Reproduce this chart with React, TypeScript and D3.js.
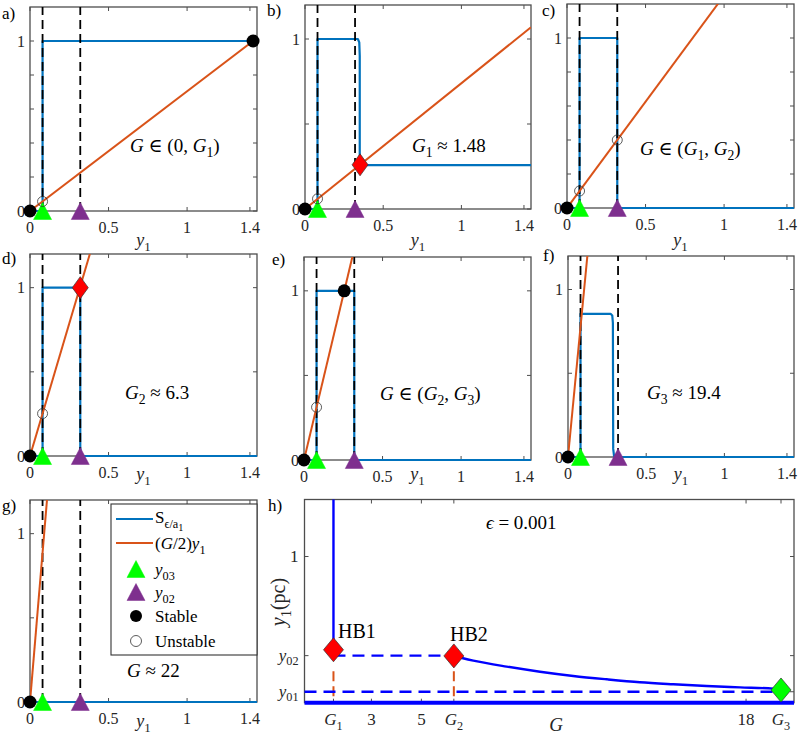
import React from 'react';
import * as d3 from 'd3';

// ---------- data ----------
const Y03 = 0.08;
const Y02 = 0.32;
const X_MAX = 1.445;
const Y_MAX = 1.2;

const panelLetters = ['a', 'b', 'c', 'd', 'e', 'f', 'g'];
const halfG = [0.704, 0.74, 1.25, 3.15, 3.9, 9.7, 11.1];

const xTicks = [0, 0.5, 1, 1.4];
const xTickLabels = ['0', '0.5', '1', '1.4'];
const yTicksFine = [0, 0.2, 0.4, 0.6, 0.8, 1];
const yTicksCoarse = [0, 0.5, 1];
const yTickLabeled = [0, 1];

const sA = [[0, 0], [0.08, 0], [0.08, 1], [1.42, 1]];
const sB = [[0, 0], [0.08, 0], [0.08, 1], [0.338, 1], [0.347, 0.98], [0.35, 0.9], [0.35, 0.27], [0.36, 0.258], [1.445, 0.258]];
const sC = [[0, 0], [0.08, 0], [0.08, 1], [0.32, 1], [0.32, 0], [1.445, 0]];
const sD = [[0, 0], [0.08, 0], [0.08, 1], [0.32, 1], [0.32, 0], [1.445, 0]];
const sE = [[0, 0], [0.08, 0], [0.08, 1], [0.32, 1], [0.32, 0], [1.445, 0]];
const sF = [[0, 0], [0.08, 0], [0.08, 0.855], [0.272, 0.855], [0.283, 0.845], [0.287, 0.8], [0.289, 0.05], [0.295, 0], [1.445, 0]];
const sG = [[0, 0], [1.445, 0]];
const sCurves = [sA, sB, sC, sD, sE, sF, sG];

const stablePts = [[[0, 0], [1.42, 1]], [[0, 0]], [[0, 0]], [[0, 0]], [[0, 0], [0.256, 1]], [[0, 0]], [[0, 0]]];
const unstablePts = [[[0.08, 0.056]], [[0.08, 0.06]], [[0.08, 0.1], [0.32, 0.4]], [[0.08, 0.252]], [[0.08, 0.312]], [], []];
const bifPts = [[], [[0.352, 0.26]], [], [[0.32, 1.0]], [], [], []];

// panel h data
const G1 = 1.48;
const G2 = 6.3;
const G3 = 19.4;
const Y01H = 0.075;
const Y02H = 0.322;
const hCurveG = [6.3, 6.67, 7.08, 8.41, 9.75, 11.08, 12.42, 13.75, 15.09, 16.42, 17.76, 19.09, 19.4];
const hCurveY = [0.32, 0.304, 0.288, 0.247, 0.212, 0.183, 0.16, 0.14, 0.126, 0.114, 0.105, 0.096, 0.087];
const hb1 = [G1, 0.362];
const hb2 = [G2, 0.32];
const g3Pt = [G3, 0.087];
const hXTicks = [G1, 3, 5, G2, 18, G3];
const hYTicks = [Y01H, Y02H, 1];

// ---------- helpers ----------
const FONT = '"Liberation Serif", "DejaVu Serif", "Noto Serif", "Tinos", "FreeSerif", "Nimbus Roman", "Times New Roman", Times, serif';
const BLUE = '#0072BD';
const ORANGE = '#D95319';
const PURE_BLUE = '#0000FF';
const AX = '#4d4d4d';
const TXT = '#262626';

type Seg = { t: string; i?: boolean; s?: number };
const SUBOFF = [0, 0.28, 0.46];
const SUBSCALE = [1, 0.72, 0.6];

function Rich(props: { x: number; y: number; segs: Seg[]; size: number; anchor?: string; transform?: string; fill?: string }) {
  const { x, y, segs, size, anchor = 'start', transform, fill = '#000' } = props;
  let prev = 0;
  const kids = segs.map((s, k) => {
    const lv = s.s || 0;
    const dy = (SUBOFF[lv] - SUBOFF[prev]) * size;
    prev = lv;
    return (
      <tspan key={k} dy={dy} fontStyle={s.i ? 'italic' : 'normal'} fontSize={size * SUBSCALE[lv]}>
        {s.t}
      </tspan>
    );
  });
  return (
    <text x={x} y={y} fontSize={size} textAnchor={anchor as any} transform={transform} fill={fill} style={{ fontFamily: FONT }}>
      {kids}
    </text>
  );
}

const annos: Seg[][] = [
  [{ t: 'G', i: true }, { t: ' ∈ (0, ' }, { t: 'G', i: true }, { t: '1', s: 1 }, { t: ')' }],
  [{ t: 'G', i: true }, { t: '1', s: 1 }, { t: ' ≈ 1.48' }],
  [{ t: 'G', i: true }, { t: ' ∈ (' }, { t: 'G', i: true }, { t: '1', s: 1 }, { t: ', ' }, { t: 'G', i: true }, { t: '2', s: 1 }, { t: ')' }],
  [{ t: 'G', i: true }, { t: '2', s: 1 }, { t: ' ≈ 6.3' }],
  [{ t: 'G', i: true }, { t: ' ∈ (' }, { t: 'G', i: true }, { t: '2', s: 1 }, { t: ', ' }, { t: 'G', i: true }, { t: '3', s: 1 }, { t: ')' }],
  [{ t: 'G', i: true }, { t: '3', s: 1 }, { t: ' ≈ 19.4' }],
  [{ t: 'G', i: true }, { t: ' ≈ 22' }],
];

const rects = [
  { l: 30, r: 257, t: 7, b: 211 },
  { l: 305, r: 531, t: 5, b: 209 },
  { l: 567, r: 794, t: 4, b: 208 },
  { l: 30, r: 257, t: 254, b: 456 },
  { l: 304, r: 531, t: 257, b: 460 },
  { l: 568, r: 794, t: 256, b: 457 },
  { l: 30, r: 257, t: 500, b: 702 },
];
const annoPos = [
  [130, 152], [412, 152], [640, 155], [125, 399], [380, 400], [647, 399], [127, 677],
];
const letterPos = [
  [2, 19], [267, 16], [542, 16], [2, 264], [272, 265], [543, 261], [2, 511],
];
const y1LabelBase = [246, 246, 246, 480, 480, 480, 727];

function Tri({ x, y, color }: { x: number; y: number; color: string }) {
  const hw = 9, hh = 8.5;
  return <polygon points={`${x},${y - hh} ${x + hw},${y + hh} ${x - hw},${y + hh}`} fill={color} stroke={color} strokeWidth={0.5} />;
}
function Diamond({ x, y, hw, hh, color }: { x: number; y: number; hw: number; hh: number; color: string }) {
  return <polygon points={`${x},${y - hh} ${x + hw},${y} ${x},${y + hh} ${x - hw},${y}`} fill={color} stroke="#333" strokeWidth={0.7} />;
}

function Panel({ idx }: { idx: number }) {
  const R = rects[idx];
  const x = d3.scaleLinear().domain([0, X_MAX]).range([R.l, R.r]);
  const y = d3.scaleLinear().domain([0, Y_MAX]).range([R.b, R.t]);
  const line = d3.line<number[]>().x((d) => x(d[0])).y((d) => y(d[1]));
  const yTicks = idx === 0 || idx === 2 ? yTicksFine : yTicksCoarse;
  const clipId = `clip-${idx}`;
  const tl = 4;
  const slope = halfG[idx];
  const orange = [[0, 0], [X_MAX, slope * X_MAX]];
  return (
    <g>
      <defs>
        <clipPath id={clipId}>
          <rect x={R.l} y={R.t} width={R.r - R.l} height={R.b - R.t} />
        </clipPath>
      </defs>
      <rect x={R.l} y={R.t} width={R.r - R.l} height={R.b - R.t} fill="white" stroke={AX} strokeWidth={1.3} />
      {xTicks.map((v, k) => (
        <g key={'xt' + k}>
          <line x1={x(v)} x2={x(v)} y1={R.b} y2={R.b - tl} stroke={AX} strokeWidth={1} />
          <line x1={x(v)} x2={x(v)} y1={R.t} y2={R.t + tl} stroke={AX} strokeWidth={1} />
          <text x={x(v)} y={R.b + 22} fontSize={16} textAnchor="middle" fill={TXT} style={{ fontFamily: FONT }}>
            {xTickLabels[k]}
          </text>
        </g>
      ))}
      {yTicks.map((v, k) => (
        <g key={'yt' + k}>
          <line x1={R.l} x2={R.l + tl} y1={y(v)} y2={y(v)} stroke={AX} strokeWidth={1} />
          <line x1={R.r} x2={R.r - tl} y1={y(v)} y2={y(v)} stroke={AX} strokeWidth={1} />
        </g>
      ))}
      {yTickLabeled.map((v, k) => (
        <text key={'yl' + k} x={R.l - 5} y={y(v) + 5.5} fontSize={16} textAnchor="end" fill={TXT} style={{ fontFamily: FONT }}>
          {String(v)}
        </text>
      ))}
      <Rich x={(R.l + R.r) / 2} y={y1LabelBase[idx]} size={18} anchor="middle" fill={TXT} segs={[{ t: 'y', i: true }, { t: '1', s: 1 }]} />
      <text x={letterPos[idx][0]} y={letterPos[idx][1]} fontSize={17} fill="#000" style={{ fontFamily: FONT }}>
        {panelLetters[idx] + ')'}
      </text>
      <path d={line(sCurves[idx] as any) || ''} fill="none" stroke={BLUE} strokeWidth={2.2} strokeLinejoin="round" />
      <g clipPath={`url(#${clipId})`}>
        {[Y03, Y02].map((v, k) => (
          <line key={'dl' + k} x1={x(v)} x2={x(v)} y1={y(0)} y2={y(Y_MAX)} stroke="#000" strokeWidth={1.8} strokeDasharray="9,5" />
        ))}
        <path d={line(orange as any) || ''} fill="none" stroke={ORANGE} strokeWidth={2} />
      </g>
      <Rich x={annoPos[idx][0]} y={annoPos[idx][1]} size={19} segs={annos[idx]} />
      {stablePts[idx].map((p, k) => (
        <circle key={'st' + k} cx={x(p[0])} cy={y(p[1])} r={6.5} fill="#000" />
      ))}
      <Tri x={x(Y03)} y={y(0)} color="#00FF00" />
      <Tri x={x(Y02)} y={y(0)} color="#7E2F8E" />
      {unstablePts[idx].map((p, k) => (
        <circle key={'us' + k} cx={x(p[0])} cy={y(p[1])} r={5} fill="none" stroke="#333" strokeWidth={0.8} />
      ))}
      {bifPts[idx].map((p, k) => (
        <Diamond key={'bf' + k} x={x(p[0])} y={y(p[1])} hw={8} hh={11} color="#FF0000" />
      ))}
    </g>
  );
}

function Legend() {
  const L = { l: 111, r: 257, t: 504, b: 655 };
  const ys = [519, 543, 569, 592, 616, 641];
  const mx = 136;
  const tx = 155;
  const labels: Seg[][] = [
    [{ t: 'S' }, { t: 'ϵ/a', s: 1 }, { t: '1', s: 2 }],
    [{ t: '(' }, { t: 'G', i: true }, { t: '/2)' }, { t: 'y', i: true }, { t: '1', s: 1 }],
    [{ t: 'y', i: true }, { t: '03', s: 1 }],
    [{ t: 'y', i: true }, { t: '02', s: 1 }],
    [{ t: 'Stable' }],
    [{ t: 'Unstable' }],
  ];
  return (
    <g>
      <rect x={L.l} y={L.t} width={L.r - L.l} height={L.b - L.t} fill="white" stroke="#333" strokeWidth={1.1} />
      <line x1={116} x2={153} y1={ys[0]} y2={ys[0]} stroke={BLUE} strokeWidth={2.2} />
      <line x1={116} x2={153} y1={ys[1]} y2={ys[1]} stroke={ORANGE} strokeWidth={2} />
      <Tri x={mx} y={ys[2]} color="#00FF00" />
      <Tri x={mx} y={ys[3]} color="#7E2F8E" />
      <circle cx={mx} cy={ys[4]} r={6} fill="#000" />
      <circle cx={mx} cy={ys[5]} r={5.5} fill="none" stroke="#333" strokeWidth={0.8} />
      {labels.map((s, k) => (
        <Rich key={k} x={tx} y={ys[k] + (k === 0 ? 4 : 6)} size={17} segs={s} />
      ))}
    </g>
  );
}

function PanelH() {
  const R = { l: 304.5, r: 794, t: 499.5, b: 702.7 };
  const x = d3.scaleLinear().domain([0.32, 19.92]).range([R.l, R.r]);
  const y = d3.scaleLinear().domain([0, 1.39]).range([R.b, R.t]);
  const curve = d3
    .line<number>()
    .x((_, i) => x(hCurveG[i]))
    .y((d) => y(d))
    .curve(d3.curveMonotoneX);
  const tl = 4;
  const xLabels: Seg[][] = [
    [{ t: 'G', i: true }, { t: '1', s: 1 }],
    [{ t: '3' }],
    [{ t: '5' }],
    [{ t: 'G', i: true }, { t: '2', s: 1 }],
    [{ t: '18' }],
    [{ t: 'G', i: true }, { t: '3', s: 1 }],
  ];
  const yLabels: Seg[][] = [
    [{ t: 'y', i: true }, { t: '01', s: 1 }],
    [{ t: 'y', i: true }, { t: '02', s: 1 }],
    [{ t: '1' }],
  ];
  return (
    <g>
      <rect x={R.l} y={R.t} width={R.r - R.l} height={R.b - R.t} fill="white" stroke={AX} strokeWidth={1.3} />
      {hXTicks.map((v, k) => (
        <g key={'hx' + k}>
          <line x1={x(v)} x2={x(v)} y1={R.b} y2={R.b - tl} stroke={AX} strokeWidth={1} />
          <line x1={x(v)} x2={x(v)} y1={R.t} y2={R.t + tl} stroke={AX} strokeWidth={1} />
          <Rich x={x(v)} y={725} size={17} anchor="middle" fill={TXT} segs={xLabels[k]} />
        </g>
      ))}
      {hYTicks.map((v, k) => (
        <g key={'hy' + k}>
          <line x1={R.l} x2={R.l + tl} y1={y(v)} y2={y(v)} stroke={AX} strokeWidth={1} />
          <line x1={R.r} x2={R.r - tl} y1={y(v)} y2={y(v)} stroke={AX} strokeWidth={1} />
          <Rich x={R.l - 6} y={y(v) + 5} size={17} anchor="end" fill={TXT} segs={yLabels[k]} />
        </g>
      ))}
      <Rich
        x={0}
        y={0}
        size={20}
        anchor="middle"
        fill={TXT}
        transform={`translate(285,602) rotate(-90)`}
        segs={[{ t: 'y', i: true }, { t: '1', s: 1 }, { t: '(pc)' }]}
      />
      <Rich x={556} y={731} size={19} anchor="middle" fill={TXT} segs={[{ t: 'G', i: true }]} />
      <text x={268} y={511} fontSize={17} fill="#000" style={{ fontFamily: FONT }}>h)</text>
      <Rich x={486} y={529} size={19} segs={[{ t: 'ϵ', i: true }, { t: ' = 0.001' }]} />

      {[G1, G2].map((v, k) => (
        <line key={'od' + k} x1={x(v)} x2={x(v)} y1={y(0.215)} y2={y(0)} stroke={ORANGE} strokeWidth={2} strokeDasharray="10,5" />
      ))}
      <line x1={x(G1)} x2={x(G2)} y1={y(Y02H)} y2={y(Y02H)} stroke={PURE_BLUE} strokeWidth={2.4} strokeDasharray="12,7" />
      <line x1={x(0.32)} x2={x(G3)} y1={y(Y01H)} y2={y(Y01H)} stroke={PURE_BLUE} strokeWidth={2.4} strokeDasharray="12,7" />
      <line x1={x(G1)} x2={x(G1)} y1={y(1.39)} y2={y(hb1[1])} stroke={PURE_BLUE} strokeWidth={2.4} />
      <path d={curve(hCurveY) || ''} fill="none" stroke={PURE_BLUE} strokeWidth={2.4} />
      <line x1={x(0.32)} x2={x(19.92)} y1={y(0)} y2={y(0)} stroke={PURE_BLUE} strokeWidth={4} />
      <Diamond x={x(hb1[0])} y={y(hb1[1])} hw={10} hh={12} color="#FF0000" />
      <Diamond x={x(hb2[0])} y={y(hb2[1])} hw={10} hh={12} color="#FF0000" />
      <Diamond x={x(g3Pt[0])} y={y(g3Pt[1])} hw={10} hh={12} color="#00FF00" />
      <text x={338} y={638} fontSize={20} fill="#000" style={{ fontFamily: FONT }}>HB1</text>
      <text x={450} y={641} fontSize={20} fill="#000" style={{ fontFamily: FONT }}>HB2</text>
    </g>
  );
}

export default function App() {
  return (
    <svg width={800} height={735} style={{ position: 'absolute', left: 0, top: 0, background: 'white' }}>
      <rect x={0} y={0} width={800} height={735} fill="white" />
      {panelLetters.map((_, i) => (
        <Panel key={i} idx={i} />
      ))}
      <Legend />
      <PanelH />
    </svg>
  );
}
